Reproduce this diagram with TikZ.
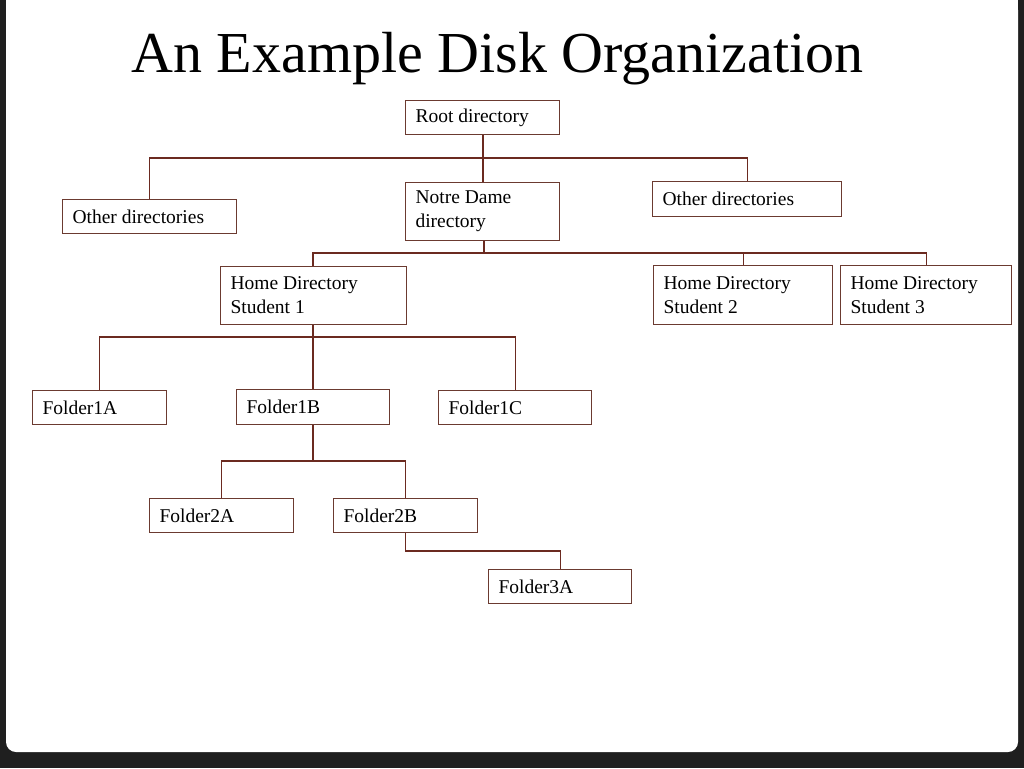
\documentclass[tikz,border=0pt]{standalone}
\usepackage{fontspec}
\setmainfont{Liberation Serif}
\begin{document}
\begin{tikzpicture}[x=1pt,y=-1pt,
  box/.style={draw=boxc,line width=1.1pt,fill=white,inner xsep=10pt,inner ysep=0pt,align=flush left,font=\fontsize{19.5}{24}\selectfont,anchor=north west},
  ln/.style={draw=linec,line width=1.1pt}]
\definecolor{boxc}{HTML}{6B3A30}
\definecolor{linec}{HTML}{6B2A20}
\fill[black!88] (0,0) rectangle (1024,768);
\fill[white,rounded corners=10pt] (6,0) rectangle (1018,752);
\fill[white] (6,0) rectangle (1018,20);
\useasboundingbox (0,0) rectangle (1024,768);
\node[anchor=west,font=\fontsize{58}{62}\selectfont] (title) at (128,59) {An Example Disk Organization};
\newcommand\bx[6]{\node[box,minimum width=#4-#2,minimum height=#5-#3,text width=#4-#2-20] (#1) at (#2,#3) {#6};}
\bx{root}{405}{100}{559}{134}{Root directory}
\bx{othL}{62}{199}{236}{233}{Other directories}
\bx{nd}{405}{182}{559}{240}{Notre Dame\\directory}
\bx{othR}{652}{181}{841}{216}{Other directories}
\bx{h1}{220}{266}{406}{324}{Home Directory\\Student 1}
\bx{h2}{653}{265}{832}{324}{Home Directory\\Student 2}
\bx{h3}{840}{265}{1011}{324}{Home Directory\\Student 3}
\bx{fa}{32}{390}{166}{424}{Folder1A}
\bx{fb}{236}{389}{389}{424}{Folder1B}
\bx{fc}{438}{390}{591}{424}{Folder1C}
\bx{f2a}{149}{498}{293}{532}{Folder2A}
\bx{f2b}{333}{498}{477}{532}{Folder2B}
\bx{f3a}{488}{569}{631}{603}{Folder3A}
\coordinate (j1) at (483,158);
\coordinate (j2) at (484,253);
\coordinate (j3) at (313,337);
\coordinate (j4) at (313,461);
\draw[ln] (root.south -| j1) -- (j1);
\draw[ln] (j1) -| (othL.north);
\draw[ln] (j1) -- (nd.north -| j1);
\draw[ln] (j1) -| (othR.north);
\draw[ln] (nd.south -| j2) -- (j2);
\draw[ln] (j2) -| (h1.north -| j3);
\draw[ln] (j2) -| (h2.north);
\draw[ln] (j2) -| (h3.north);
\draw[ln] (h1.south -| j3) -- (j3);
\draw[ln] (j3) -| (fa.north);
\draw[ln] (j3) -- (fb.north -| j3);
\draw[ln] (j3) -| (fc.north);
\draw[ln] (fb.south -| j4) -- (j4);
\draw[ln] (j4) -| (f2a.north);
\draw[ln] (j4) -| (f2b.north);
\draw[ln] (f2b.south) |- (f3a.north |- 0,551) -- (f3a.north);
\end{tikzpicture}
\end{document}
